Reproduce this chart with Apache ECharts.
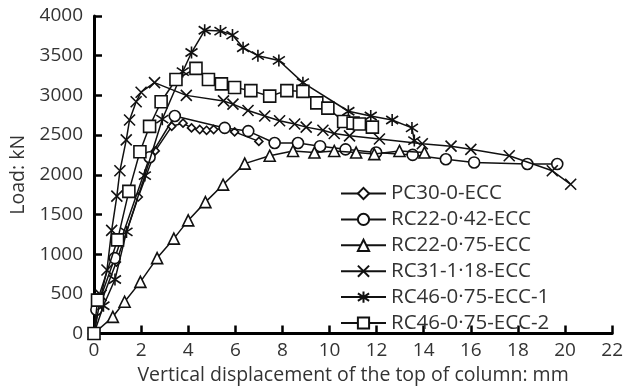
<!DOCTYPE html>
<html>
<head>
<meta charset="utf-8">
<script src="https://cdn.jsdelivr.net/npm/echarts@6/dist/echarts.min.js"></script>
<style>html,body{margin:0;padding:0;background:#fff}#c{width:626px;height:392px}</style>
</head>
<body>
<div id="c"></div>
<script>
const seriesNames = ['PC30-0-ECC','RC22-0·42-ECC','RC22-0·75-ECC','RC31-1·18-ECC','RC46-0·75-ECC-1','RC46-0·75-ECC-2'];
const xTicks = [0,2,4,6,8,10,12,14,16,18,20,22];
const yTicks = [0,500,1000,1500,2000,2500,3000,3500,4000];

const pc30 = [[0,0],[0.18,300],[0.95,900],[1.88,1720],[2.6,2300],[3.3,2610],[3.78,2650],[4.14,2590],[4.49,2570],[4.78,2560],[5.08,2570],[5.5,2580],[5.97,2540],[7.0,2420]];
const rc22a = [[0,0],[0.1,300],[0.88,950],[2.36,2220],[3.43,2740],[5.55,2590],[6.55,2550],[7.67,2400],[8.66,2400],[9.6,2360],[10.68,2320],[11.98,2280],[13.53,2250],[14.94,2195],[16.14,2155],[18.4,2135],[19.67,2135]];
const rc22b = [[0,0],[0.8,210],[1.3,400],[1.97,650],[2.68,950],[3.39,1195],[4.0,1425],[4.73,1655],[5.48,1875],[6.4,2140],[7.46,2240],[8.45,2300],[9.36,2280],[10.2,2300],[11.13,2280],[11.9,2260],[12.97,2300],[14.03,2280]];
const rc31 = [[0,0],[0.3,480],[0.55,800],[0.75,1300],[0.97,1730],[1.1,2050],[1.37,2440],[1.51,2690],[1.79,2920],[2.0,3040],[2.57,3160],[3.92,3000],[5.5,2930],[5.9,2890],[6.54,2810],[7.25,2740],[7.88,2680],[8.52,2640],[9.01,2600],[9.72,2560],[10.2,2520],[10.85,2490],[12.12,2450],[13.94,2390],[15.16,2360],[16.0,2320],[17.63,2240],[19.46,2050],[20.24,1880]];
const rc46a = [[0,0],[0.4,350],[0.89,680],[1.38,1280],[2.16,1990],[2.9,2700],[3.77,3300],[4.14,3540],[4.7,3820],[5.37,3810],[5.88,3760],[6.33,3600],[6.96,3500],[7.85,3440],[8.87,3160],[10.8,2800],[11.75,2740],[12.66,2690],[13.5,2590],[13.6,2430]];
const rc46b = [[0,0],[0.15,420],[1.0,1180],[1.48,1790],[1.95,2290],[2.36,2610],[2.85,2920],[3.48,3200],[4.33,3340],[4.86,3200],[5.41,3145],[5.97,3100],[6.66,3060],[7.46,2990],[8.19,3060],[8.87,3050],[9.46,2905],[9.93,2840],[10.6,2670],[11.0,2650],[11.27,2640],[11.82,2600]];

const allData = [pc30, rc22a, rc22b, rc31, rc46a, rc46b];
const symbols = [
  'diamond',
  'circle',
  'triangle',
  'path://M0,0L10,10M10,0L0,10',
  'path://M1,2L9,10M9,2L1,10M5,0L5,12',
  'rect'
];
const sizes = [8, 11, 11, 11, 12, 12];

const FONT = 'Open Sans';
const chart = echarts.init(document.getElementById('c'));
chart.setOption({
  animation: false,
  backgroundColor: '#fff',
  grid: {left: 94, right: 13, top: 16, bottom: 58.5},
  xAxis: {
    type: 'value', min: 0, max: 22, interval: 2,
    name: 'Vertical displacement of the top of column: mm',
    nameLocation: 'middle', nameGap: 32,
    nameTextStyle: {fontFamily: FONT, fontSize: 19.5, color: '#333'},
    axisLine: {show: true, lineStyle: {color: '#000', width: 3}},
    axisTick: {show: true, inside: true, length: 8, lineStyle: {color: '#000', width: 2.5}},
    axisLabel: {fontFamily: FONT, fontSize: 19, color: '#333', margin: 8,
      formatter: v => xTicks.includes(v) ? String(v) : ''},
    splitLine: {show: false}
  },
  yAxis: {
    type: 'value', min: 0, max: 4000, interval: 500,
    name: 'Load: kN',
    nameLocation: 'middle', nameGap: 62,
    nameTextStyle: {fontFamily: FONT, fontSize: 19.5, color: '#333'},
    axisLine: {show: true, lineStyle: {color: '#000', width: 3}},
    axisTick: {show: true, inside: true, length: 8, lineStyle: {color: '#000', width: 2.5}},
    axisLabel: {fontFamily: FONT, fontSize: 19, color: '#333', margin: 11,
      formatter: v => yTicks.includes(v) ? String(v) : ''},
    splitLine: {show: false}
  },
  legend: {
    orient: 'vertical', left: 335, top: 178,
    itemWidth: 45, itemHeight: 14, itemGap: 4.9,
    textStyle: {fontFamily: FONT, fontSize: 20.5, color: '#333', lineHeight: 20},
    data: seriesNames
  },
  series: seriesNames.map((n, i) => ({
    name: n, type: 'line', data: allData[i],
    symbol: symbols[i], symbolSize: sizes[i],
    lineStyle: {color: '#111', width: 1.5},
    itemStyle: {color: '#fff', borderColor: '#111', borderWidth: 1.6},
    z: 2 + i
  }))
});
</script>
</body>
</html>
